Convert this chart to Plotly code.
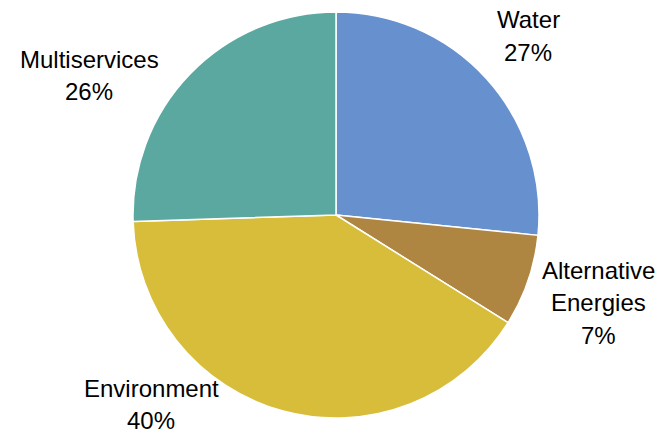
import plotly.graph_objects as go

labels = ["Water", "Alternative Energies", "Environment", "Multiservices"]
values = [26.6, 7.3, 40.6, 25.5]
colors = ["#6691CE", "#AE8541", "#D7BD3A", "#5BA8A1"]
label_lines = [["Water", "27%"], ["Alternative", "Energies", "7%"], ["Environment", "40%"], ["Multiservices", "26%"]]
# label anchor (center of first line) in pixels, and line spacing
label_pos = [(528, 20), (598, 270), (151, 388), (89, 59)]
line_gap = 32.5

W, H = 661, 435
cx, cy, r = 336, 215, 203

fig = go.Figure(go.Pie(
    labels=labels, values=values, sort=False, direction="clockwise", rotation=0,
    marker=dict(colors=colors, line=dict(color="white", width=1.5)),
    textinfo="none", hoverinfo="label+percent", showlegend=False,
    domain=dict(x=[(cx - r) / W, (cx + r) / W], y=[1 - (cy + r) / H, 1 - (cy - r) / H]),
))

annotations = []
for lines, (px, py) in zip(label_lines, label_pos):
    for i, t in enumerate(lines):
        annotations.append(dict(
            text=t, x=px / W, y=1 - (py + i * line_gap) / H, xref="paper", yref="paper",
            showarrow=False, xanchor="center", yanchor="middle",
            font=dict(family="Liberation Sans, Arial", size=24, color="black"),
        ))

fig.update_layout(
    width=W, height=H, margin=dict(l=0, r=0, t=0, b=0),
    paper_bgcolor="white", plot_bgcolor="white", annotations=annotations,
)
fig.write_html("out.html", config={"displayModeBar": False},
               post_script="document.body.style.margin='0';")
